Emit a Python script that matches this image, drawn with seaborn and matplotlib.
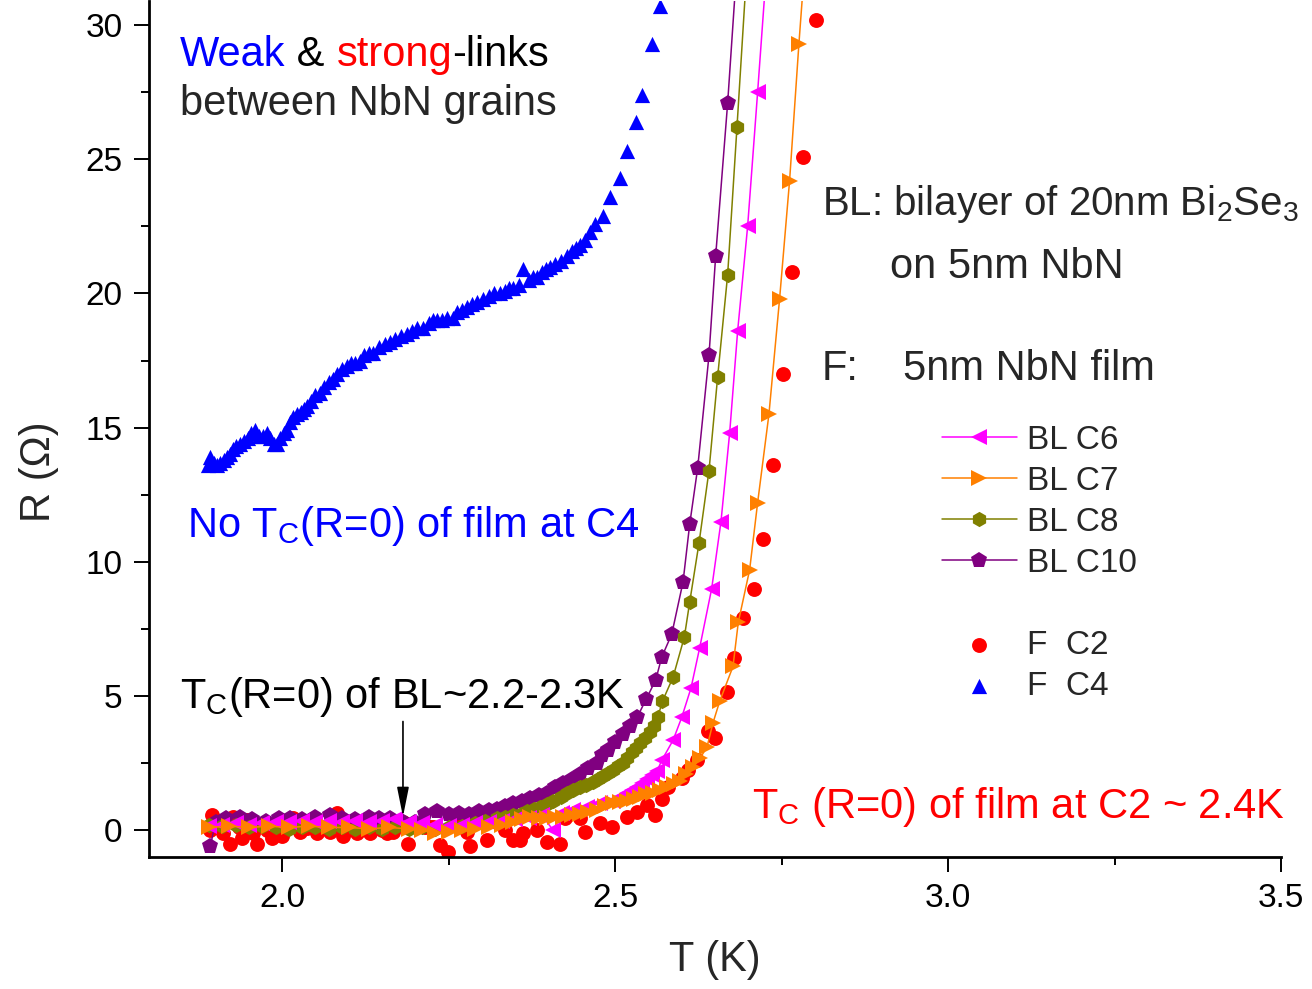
import matplotlib
matplotlib.use("Agg")
import matplotlib.pyplot as plt
import seaborn as sns
from matplotlib.lines import Line2D

# ---------------- data ----------------
c6_T = [1.89, 1.91, 1.93, 1.95, 1.97, 1.99, 2.01, 2.03, 2.05, 2.07, 2.09, 2.11, 2.13, 2.15, 2.17, 2.19,
        2.21, 2.23, 2.25, 2.27, 2.29, 2.31, 2.33, 2.35, 2.37, 2.39, 2.407, 2.42, 2.437, 2.458, 2.477,
        2.497, 2.508, 2.518, 2.526, 2.533, 2.541, 2.548, 2.556, 2.563, 2.570, 2.587, 2.600, 2.614,
        2.627, 2.645, 2.659, 2.672, 2.684, 2.699, 2.714, 2.73]
c6_R = [0.15, 0.2, 0.25, 0.2, 0.25, 0.3, 0.3, 0.35, 0.3, 0.35, 0.3, 0.35, 0.3, 0.35, 0.4, 0.3,
        0.25, 0.2, 0.15, 0.2, 0.25, 0.3, 0.35, 0.4, 0.45, 0.55, 0.0, 0.65, 0.75, 0.86, 1.0,
        1.1, 1.25, 1.4, 1.5, 1.6, 1.75, 1.9, 2.05, 2.2, 2.6, 3.35, 4.2, 5.3,
        6.8, 9.0, 11.5, 14.8, 18.6, 22.5, 27.5, 33.0]

c7_T = [1.89, 1.92, 1.95, 1.98, 2.01, 2.04, 2.07, 2.10, 2.13, 2.16, 2.19, 2.21, 2.23, 2.25, 2.27,
        2.29, 2.31, 2.33, 2.347, 2.36, 2.372, 2.385, 2.398, 2.41, 2.422, 2.435, 2.447, 2.46, 2.473,
        2.485, 2.497, 2.508, 2.518, 2.528, 2.537, 2.547, 2.557, 2.567, 2.578, 2.588, 2.597, 2.607,
        2.617, 2.628, 2.638, 2.647, 2.657, 2.677, 2.685, 2.702, 2.714, 2.731, 2.747, 2.762, 2.776, 2.79]
c7_R = [0.1, 0.15, 0.1, 0.15, 0.1, 0.15, 0.1, 0.1, 0.05, 0.1, 0.05, 0.0, -0.1, -0.05, 0.0,
        0.05, 0.1, 0.2, 0.3, 0.4, 0.5, 0.45, 0.45, 0.5, 0.5, 0.55, 0.6, 0.68, 0.75,
        0.9, 1.0, 1.05, 1.1, 1.18, 1.25, 1.33, 1.4, 1.5, 1.6, 1.72, 1.85, 2.1,
        2.35, 2.7, 3.1, 4.0, 4.8, 6.1, 7.75, 9.7, 12.2, 15.5, 19.8, 24.2, 29.3, 34.0]

c8_T = [1.89, 1.91, 1.93, 1.95, 1.97, 1.99, 2.01, 2.03, 2.05, 2.07, 2.09, 2.11, 2.13, 2.15, 2.17,
        2.19, 2.21, 2.23, 2.25, 2.27, 2.29, 2.305, 2.322, 2.335, 2.347, 2.358, 2.368, 2.378, 2.387,
        2.397, 2.407, 2.418, 2.428, 2.437, 2.447, 2.457, 2.467, 2.475, 2.482, 2.49, 2.497, 2.505,
        2.512, 2.518, 2.525, 2.531, 2.537, 2.545, 2.552, 2.558, 2.564, 2.571, 2.587, 2.604, 2.612,
        2.626, 2.641, 2.654, 2.669, 2.683, 2.70]
c8_R = [0.2, 0.15, 0.2, 0.1, 0.15, 0.1, 0.05, 0.1, 0.1, 0.05, 0.1, 0.05, 0.1, 0.05, 0.1,
        0.05, 0.1, 0.05, 0.1, 0.15, 0.25, 0.35, 0.45, 0.5, 0.55, 0.62, 0.7, 0.78, 0.85,
        0.97, 1.1, 1.25, 1.4, 1.5, 1.6, 1.7, 1.8, 1.9, 2.0, 2.12, 2.25, 2.38,
        2.5, 2.7, 2.9, 3.08, 3.25, 3.45, 3.65, 3.9, 4.2, 4.8, 5.7, 7.2, 8.5,
        10.7, 13.4, 16.9, 20.7, 26.2, 33.0]

c10_T = [1.892, 1.90, 1.915, 1.937, 1.955, 1.975, 1.995, 2.012, 2.03, 2.05, 2.072, 2.09, 2.11, 2.13,
         2.145, 2.162, 2.18, 2.2, 2.215, 2.232, 2.25, 2.265, 2.28, 2.295, 2.31, 2.322, 2.335, 2.347,
         2.36, 2.372, 2.385, 2.398, 2.41, 2.422, 2.435, 2.447, 2.46, 2.473, 2.48, 2.489, 2.5, 2.512,
         2.522, 2.533, 2.547, 2.561, 2.570, 2.585, 2.602, 2.612, 2.624, 2.641, 2.651, 2.669, 2.685]
c10_R = [-0.6, 0.3, 0.45, 0.5, 0.4, 0.35, 0.45, 0.45, 0.4, 0.5, 0.55, 0.45, 0.4, 0.5,
         0.45, 0.45, 0.35, 0.3, 0.6, 0.7, 0.6, 0.65, 0.6, 0.7, 0.75, 0.8, 0.9, 1.0,
         1.1, 1.2, 1.3, 1.4, 1.6, 1.75, 1.9, 2.1, 2.3, 2.5, 2.8, 3.0, 3.3, 3.6,
         3.9, 4.2, 4.9, 5.6, 6.45, 7.3, 9.25, 11.4, 13.5, 17.7, 21.4, 27.1, 33.0]

c2_T = [1.892, 1.895, 1.90, 1.911, 1.915, 1.922, 1.926, 1.935, 1.94, 1.947, 1.956, 1.962, 1.968, 1.977,
        1.985, 1.992, 2.0, 2.007, 2.016, 2.027, 2.037, 2.045, 2.052, 2.062, 2.072, 2.082, 2.091, 2.10,
        2.112, 2.122, 2.132, 2.144, 2.15, 2.157, 2.166, 2.181, 2.189, 2.195, 2.207, 2.215, 2.222, 2.226,
        2.237, 2.249, 2.262, 2.277, 2.282, 2.297, 2.307, 2.324, 2.335, 2.347, 2.357, 2.362, 2.383,
        2.398, 2.417, 2.425, 2.447, 2.455, 2.477, 2.495, 2.518, 2.533, 2.548, 2.560, 2.570, 2.579,
        2.600, 2.609, 2.623, 2.639, 2.650, 2.668, 2.678, 2.692, 2.708, 2.722, 2.737, 2.752, 2.765,
        2.782, 2.801]
c2_R = [0.0, 0.56, 0.25, -0.1, 0.3, -0.5, 0.5, 0.1, -0.3, 0.37, -0.1, -0.5, 0.2, 0.0,
        -0.3, 0.3, -0.2, 0.1, 0.45, -0.07, 0.07, 0.3, -0.1, 0.1, -0.07, 0.63, -0.2, 0.05,
        -0.1, 0.1, -0.1, 0.26, 0.0, -0.1, -0.07, 0.3, -0.5, 0.15, 0.19, 0.1, 0.1, 0.1,
        -0.56, -0.8, 0.4, -0.05, -0.6, 0.4, -0.35, 0.26, 0.0, -0.37, -0.37, -0.1, 0.0,
        -0.45, -0.5, 0.45, 0.45, -0.07, 0.26, 0.1, 0.5, 0.67, 0.93, 0.56, 1.15, 1.6,
        1.95, 2.25, 2.6, 3.7, 3.45, 5.15, 6.4, 7.9, 9.0, 10.85, 13.6, 17.0, 20.8,
        25.1, 30.2]

c4_T = [1.888, 1.892, 1.897, 1.902, 1.907, 1.912, 1.917, 1.922, 1.926, 1.931, 1.937, 1.942, 1.948,
        1.953, 1.959, 1.965, 1.971, 1.977, 1.982, 1.987, 1.992, 1.997, 2.002, 2.007, 2.012, 2.016,
        2.022, 2.028, 2.033, 2.037, 2.043, 2.050, 2.057, 2.063, 2.070, 2.076, 2.083, 2.090, 2.097,
        2.103, 2.110, 2.117, 2.123, 2.130, 2.136, 2.145, 2.154, 2.162, 2.170, 2.178, 2.187, 2.195,
        2.203, 2.211, 2.220, 2.226, 2.232, 2.240, 2.248, 2.256, 2.263, 2.270, 2.277, 2.285, 2.293,
        2.301, 2.310, 2.318, 2.327, 2.335, 2.341, 2.347, 2.355, 2.362, 2.370, 2.377, 2.383, 2.390,
        2.396, 2.402, 2.410, 2.418, 2.428, 2.435, 2.442, 2.447, 2.455, 2.462, 2.470, 2.482, 2.492,
        2.507, 2.518, 2.531, 2.541, 2.555, 2.567]
c4_R = [13.6, 13.9, 13.7, 13.6, 13.7, 13.8, 13.9, 14.0, 14.2, 14.3, 14.4, 14.5, 14.6,
        14.8, 14.9, 14.7, 14.7, 14.8, 14.6, 14.4, 14.4, 14.6, 14.8, 14.9, 15.2, 15.4,
        15.5, 15.6, 15.7, 15.8, 16.0, 16.2, 16.3, 16.5, 16.7, 16.8, 17.0, 17.2, 17.3,
        17.4, 17.4, 17.5, 17.7, 17.8, 17.8, 18.0, 18.1, 18.2, 18.3, 18.4, 18.5, 18.6,
        18.7, 18.7, 18.9, 19.0, 19.0, 19.0, 19.1, 19.1, 19.3, 19.4, 19.5, 19.6, 19.7,
        19.8, 19.9, 20.0, 20.0, 20.1, 20.2, 20.2, 20.3, 20.9, 20.5, 20.6, 20.6, 20.8,
        20.9, 21.0, 21.1, 21.2, 21.4, 21.6, 21.7, 21.8, 22.0, 22.3, 22.6, 22.9, 23.6,
        24.3, 25.3, 26.4, 27.4, 29.3, 30.7]

x_ticks = [2.0, 2.5, 3.0, 3.5]
y_ticks = [0, 5, 10, 15, 20, 25, 30]

# ---------------- style ----------------
sns.set_style("ticks")
plt.rcParams["font.family"] = ["Liberation Sans", "DejaVu Sans"]
plt.rcParams["mathtext.fontset"] = "custom"
plt.rcParams["mathtext.rm"] = "Liberation Sans"
plt.rcParams["mathtext.it"] = "Liberation Sans:italic"
plt.rcParams["mathtext.bf"] = "Liberation Sans:bold"
plt.rcParams["mathtext.default"] = "rm"

MAG, ORA, OLI, PUR, RED, BLU = "#FF00FF", "#FF8000", "#808000", "#800080", "#FF0000", "#0000FF"

fig = plt.figure(figsize=(13.12, 9.89), dpi=100)
ax = fig.add_axes([149 / 1312, 1 - 857 / 989, (1281 - 149) / 1312, (857 - 1) / 989])

line_kw = dict(sort=False, estimator=None, linewidth=1.1, markeredgewidth=0, ax=ax)
sns.lineplot(x=c10_T, y=c10_R, color=PUR, marker="p", markersize=12, label="BL C10", **line_kw)
sns.lineplot(x=c8_T, y=c8_R, color=OLI, marker="h", markersize=11, label="BL C8", **line_kw)
sns.lineplot(x=c6_T, y=c6_R, color=MAG, marker="<", markersize=12, label="BL C6", **line_kw)
sns.lineplot(x=c7_T, y=c7_R, color=ORA, marker=">", markersize=12, label="BL C7", **line_kw)
sns.scatterplot(x=c2_T, y=c2_R, color=RED, marker="o", s=115, linewidth=0, label="F  C2", ax=ax)
sns.scatterplot(x=c4_T, y=c4_R, color=BLU, marker="^", s=120, linewidth=0, label="F  C4", ax=ax)

ax.set_xlim(1.8, 3.5)
ax.set_ylim(-1, 30.9)
ax.set_xticks(x_ticks)
ax.set_xticklabels(["2.0", "2.5", "3.0", "3.5"])
ax.set_yticks(y_ticks)
ax.set_xticks([2.25, 2.75, 3.25], minor=True)
ax.set_yticks([2.5, 7.5, 12.5, 17.5, 22.5, 27.5], minor=True)
for s in ["top", "right"]:
    ax.spines[s].set_visible(False)
for s in ["left", "bottom"]:
    ax.spines[s].set_linewidth(2.0)
    ax.spines[s].set_color("black")
ax.tick_params(which="major", direction="out", length=11, width=1.4, labelsize=24, pad=8, colors="black")
ax.tick_params(which="minor", direction="out", length=6, width=1.4, colors="black")

ax.set_xlabel("T (K)", fontsize=30)
ax.set_ylabel("R (Ω)", fontsize=30)
ax.xaxis.set_label_coords(0.5, -0.097)
ax.yaxis.set_label_coords(-0.0795, 0.45)

# ---------------- texts ----------------
FS = 30
t1 = ax.text(1.8465, 28.47, "Weak", color=BLU, fontsize=FS, va="baseline", ha="left")
t2 = ax.annotate(" & ", xy=(1, 0), xycoords=t1, va="bottom", ha="left", fontsize=FS, color="black")
t3 = ax.annotate("strong", xy=(1, 0), xycoords=t2, va="bottom", ha="left", fontsize=FS, color=RED)
ax.annotate("-links", xy=(1, 0), xycoords=t3, va="bottom", ha="left", fontsize=FS, color="black")
ax.text(1.8465, 26.65, "between NbN grains", fontsize=FS, va="baseline", ha="left")

ax.text(2.8105, 22.92, r"BL: bilayer of 20nm Bi$_2$Se$_3$", fontsize=29, va="baseline", ha="left")
ax.text(2.9126, 20.57, "on 5nm NbN", fontsize=FS, va="baseline", ha="left")
ax.text(2.8105, 16.77, "F:", fontsize=FS, va="baseline", ha="left")
ax.text(2.9321, 16.77, "5nm NbN film", fontsize=FS, va="baseline", ha="left")

ax.text(1.857, 10.92, r"No T$_C$(R=0) of film at C4", color=BLU, fontsize=FS, va="baseline", ha="left")
ax.text(1.8465, 4.55, r"T$_C$(R=0) of BL~2.2-2.3K", color="black", fontsize=FS, va="baseline", ha="left")
ax.text(2.7054, 0.45, r"T$_C$ (R=0) of film at C2 ~ 2.4K", color=RED, fontsize=FS, va="baseline", ha="left")

ax.annotate("", xy=(2.1814, 0.5), xytext=(2.1814, 4.05),
            arrowprops=dict(arrowstyle="-|>,head_length=0.9,head_width=0.18", color="black",
                            lw=1.2, mutation_scale=20, shrinkA=0, shrinkB=0))

# ---------------- legend ----------------
h, l = ax.get_legend_handles_labels()
hd = dict(zip(l, h))
blank = Line2D([], [], linestyle="none")
order = ["BL C6", "BL C7", "BL C8", "BL C10", None, "F  C2", "F  C4"]
handles = [hd[k] if k else blank for k in order]
labels = [k if k else " " for k in order]
ax.legend(handles, labels, loc="upper left", bbox_to_anchor=(0.7005, 0.5047), frameon=False,
          fontsize=24, handlelength=2.25, handletextpad=0.3, labelspacing=0.30,
          borderpad=0, borderaxespad=0, numpoints=1, scatterpoints=1)

fig.savefig("out.png", dpi=100)
